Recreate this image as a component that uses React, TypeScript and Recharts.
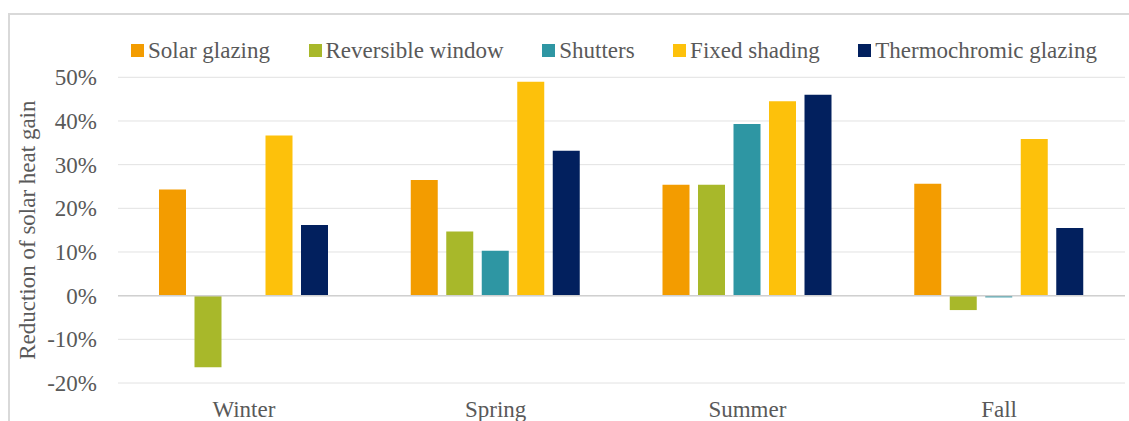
import { Bar, BarChart, CartesianGrid, Legend, ReferenceLine, XAxis, YAxis } from "recharts";

const seasons = ["Winter", "Spring", "Summer", "Fall"];
const solarGlazing = [24.3, 26.5, 25.4, 25.6];
const reversibleWindow = [-16.4, 14.7, 25.4, -3.3];
const shutters = [0, 10.3, 39.3, -0.4];
const fixedShading = [36.7, 49.0, 44.5, 35.9];
const thermochromicGlazing = [16.2, 33.2, 46.0, 15.5];
const yTicks = [-20, -10, 0, 10, 20, 30, 40, 50];

const series = [
  { key: "solar", name: "Solar glazing", color: "#F39C00", values: solarGlazing },
  { key: "reversible", name: "Reversible window", color: "#A8B82A", values: reversibleWindow },
  { key: "shutters", name: "Shutters", color: "#2E96A3", values: shutters },
  { key: "fixed", name: "Fixed shading", color: "#FDC10B", values: fixedShading },
  { key: "thermo", name: "Thermochromic glazing", color: "#02205E", values: thermochromicGlazing },
];

const data = seasons.map((season, i) => {
  const row: Record<string, string | number> = { season };
  series.forEach((s) => {
    row[s.key] = s.values[i];
  });
  return row;
});

const FONT = "'Liberation Serif', 'Times New Roman', serif";
const TEXT = "#595959";

function LegendContent() {
  return (
    <div style={{ display: "flex", paddingLeft: 131, height: 29, alignItems: "center", fontFamily: FONT, fontSize: 23, color: TEXT }}>
      {series.map((s, i) => (
        <span key={s.key} style={{ display: "inline-flex", alignItems: "center", marginRight: i < series.length - 1 ? 38.5 : 0, whiteSpace: "nowrap" }}>
          <span style={{ display: "inline-block", width: 13, height: 13, background: s.color, marginRight: 4 }} />
          {s.name}
        </span>
      ))}
    </div>
  );
}

export default function App() {
  return (
    <div style={{ position: "fixed", left: 0, top: 0, width: 1129, height: 421, overflow: "hidden", background: "#fff" }}>
      <div
        style={{
          position: "absolute",
          left: 8,
          top: 13,
          width: 1140,
          height: 420,
          borderTop: "2px solid #D9D9D9",
          borderLeft: "2px solid #D9D9D9",
        }}
      />
      <div style={{ position: "absolute", left: 0, top: 0 }}>
        <BarChart
          width={1129}
          height={423}
          data={data}
          margin={{ top: 36.3, right: 4, left: 0, bottom: 0 }}
          barSize={27}
          barGap={8.5}
        >
          <CartesianGrid vertical={false} stroke="#E2E2E2" />
          <XAxis
            dataKey="season"
            axisLine={false}
            tickLine={false}
            tickMargin={11.5}
            height={40}
            tick={{ fill: TEXT, fontSize: 23, fontFamily: FONT }}
          />
          <YAxis
            type="number"
            domain={[-20, 50]}
            ticks={yTicks}
            axisLine={false}
            tickLine={false}
            tickMargin={15}
            width={118}
            tickFormatter={(v: number) => `${v}%`}
            tick={{ fill: TEXT, fontSize: 23, fontFamily: FONT }}
            label={{
              value: "Reduction of solar heat gain",
              angle: -90,
              position: "insideLeft",
              offset: 27,
              style: { textAnchor: "middle", fill: TEXT, fontSize: 23, fontFamily: FONT },
            }}
          />
          <Legend verticalAlign="top" content={<LegendContent />} wrapperStyle={{ left: 0, top: 36.3, width: 1129, height: 41 }} />
          {series.map((s) => (
            <Bar key={s.key} dataKey={s.key} name={s.name} fill={s.color} isAnimationActive={false} />
          ))}
          <ReferenceLine y={0} stroke="#D0D0D0" strokeWidth={1.5} />
        </BarChart>
      </div>
    </div>
  );
}
